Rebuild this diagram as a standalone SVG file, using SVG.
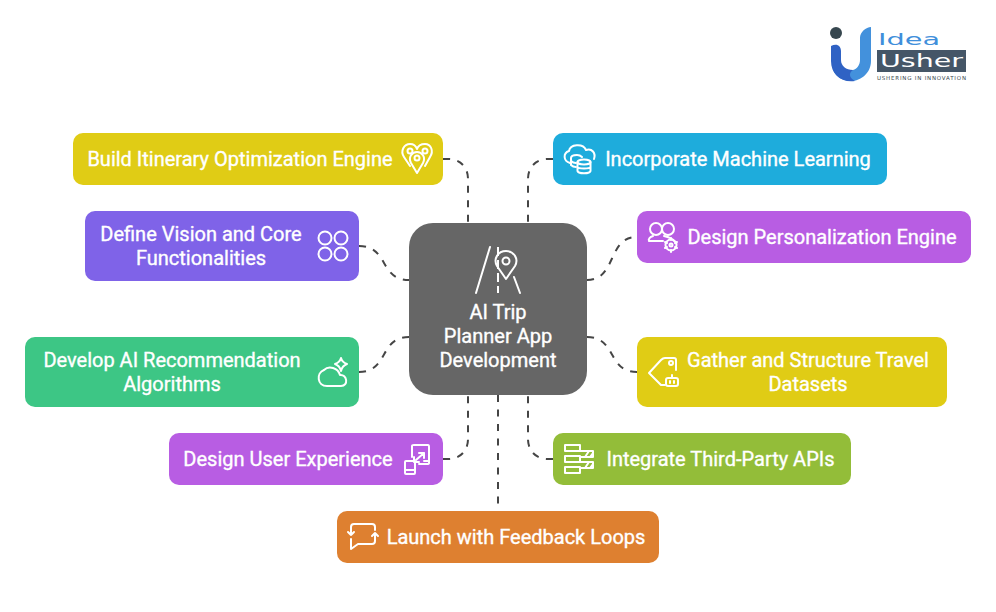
<svg xmlns="http://www.w3.org/2000/svg" width="996" height="612" viewBox="0 0 996 612">
<style>
.t{font-family:Roboto,"Liberation Sans",sans-serif;font-size:20px;font-weight:400;fill:#fff;stroke:#fff;stroke-width:.35px;text-anchor:middle}
.c{fill:none;stroke:#454545;stroke-width:2;stroke-dasharray:7 7.5}
.i{fill:none;stroke:#fff;stroke-width:2;stroke-linecap:round;stroke-linejoin:round}
</style>
<rect width="996" height="612" fill="#fff"/>
<g id="connectors">
<path class="c" d="M443 159H448C460 159 468 167 468 179V223"/>
<path class="c" d="M553 159H548C536 159 528 167 528 179V223"/>
<path class="c" d="M359 246C389 246 379 280 409 280"/>
<path class="c" d="M587 280C617 280 607 237 637 237"/>
<path class="c" d="M359 372C389 372 379 337 409 337"/>
<path class="c" d="M587 337C617 337 607 372 637 372"/>
<path class="c" d="M443 459H448C460 459 468 451 468 439V395"/>
<path class="c" d="M553 459H548C536 459 528 451 528 439V395"/>
<path class="c" d="M498 395V511"/>
</g>
<g id="center">
<rect x="409" y="223" width="178" height="172" rx="24" fill="#666"/>
<path class="i" d="M490 247L476 293M514 277L520 293"/>
<path d="M498 247V293" fill="none" stroke="#fff" stroke-width="2" stroke-dasharray="9 4"/>
<path class="i" d="M506 279L497 266C493 259 498 251 506 251S519 259 515 266Z"/>
<circle class="i" cx="506" cy="261" r="3.500"/>
<text class="t" x="498" y="319">AI Trip</text>
<text class="t" x="498" y="343">Planner App</text>
<text class="t" x="498" y="367">Development</text>
</g>
<g id="n-itinerary">
<rect x="73" y="133" width="370" height="52" rx="10" fill="#e0cc15"/>
<text class="t" x="240" y="166">Build Itinerary Optimization Engine</text>
<path class="i" d="M410 166L404 157C400 151 404 144 410 144C414 144 416 146 417 149C418 146 421 144 425 144C431 144 434 151 430 157L425 166"/>
<path class="i" d="M417 173L411 163C408 157 412 152 417 152S426 157 423 163Z"/>
<circle class="i" cx="410" cy="151" r="2.500"/><circle class="i" cx="425" cy="151" r="2.500"/><circle class="i" cx="417" cy="158" r="2.500"/>
</g>
<g id="n-ml">
<rect x="553" y="133" width="334" height="52" rx="10" fill="#1eacdc"/>
<text class="t" x="738" y="166">Incorporate Machine Learning</text>
<path class="i" d="M570 163C563 161 563 153 569 151C570 144 583 143 586 150C592 148 596 153 594 159"/>
<ellipse class="i" cx="584" cy="162" rx="6.500" ry="2.500"/>
<path class="i" d="M577.500 162V171C578 174 590 174 590.500 171V162M577.500 167C578 169 590 169 590.500 167"/>
<path class="i" d="M577 155C573 155 571 156 571 158V165C572 166 574 167 576 167M571 161C572 162 574 163 576 163M577 155C579 155 581 156 582 157"/>
</g>
<g id="n-vision">
<rect x="85" y="211" width="274" height="70" rx="10" fill="#7f63e8"/>
<text class="t" x="201" y="241">Define Vision and Core</text>
<text class="t" x="201" y="265">Functionalities</text>
<circle class="i" cx="325" cy="238" r="6.500"/><circle class="i" cx="341" cy="238" r="6.500"/><circle class="i" cx="325" cy="254" r="6.500"/><circle class="i" cx="341" cy="254" r="6.500"/>
</g>
<g id="n-personal">
<rect x="637" y="211" width="334" height="52" rx="10" fill="#b85de3"/>
<text class="t" x="822" y="244">Design Personalization Engine</text>
<circle class="i" cx="656" cy="229" r="6"/><circle class="i" cx="668" cy="229" r="6"/>
<path class="i" d="M653 236C650 237 648 239 649 241H663M664 236C668 237 672 238 674 241"/>
<circle class="i" cx="671" cy="245" r="5.500"/><circle class="i" cx="671" cy="245" r="1.500"/>
<path class="i" d="M671 238V240M671 250V252M665 242L667 243M675 247L677 248M665 248L667 247M675 243L677 242"/>
</g>
<g id="n-recommend">
<rect x="25" y="337" width="334" height="70" rx="10" fill="#3dc685"/>
<text class="t" x="172" y="367">Develop AI Recommendation</text>
<text class="t" x="172" y="391">Algorithms</text>
<path class="i" d="M327 386C317 386 316 373 324 370C329 365 338 368 340 375C347 374 349 386 341 386Z"/>
<path class="i" d="M341 358C342 362 344 363 347 364C344 365 342 367 341 371C340 367 338 365 335 364C338 363 340 362 341 358Z"/>
</g>
<g id="n-datasets">
<rect x="637" y="337" width="310" height="70" rx="10" fill="#e0cc15"/>
<text class="t" x="808" y="367">Gather and Structure Travel</text>
<text class="t" x="808" y="391">Datasets</text>
<path class="i" d="M661 385L649 373L661 360C662 359 663 358 665 358H674C675 358 676 359 676 360V370M665 385H662"/>
<circle class="i" cx="671" cy="363" r="2"/>
<rect class="i" x="666" y="378" width="12" height="8" rx="2"/><path class="i" d="M672 375V378M670 381V383M674 381V383"/>
</g>
<g id="n-ux">
<rect x="169" y="433" width="274" height="52" rx="10" fill="#b85de3"/>
<text class="t" x="288" y="466">Design User Experience</text>
<path class="i" d="M412 457V446C412 445 413 445 414 445H428C429 445 429 446 429 447V463C429 464 428 464 427 464H419M424 461H429"/>
<rect class="i" x="405" y="461" width="10" height="13" rx="1"/><path class="i" d="M405 470H415"/>
<path class="i" d="M416 460L424 453M419 453H424V458M414 462V457M414 462H419"/>
</g>
<g id="n-apis">
<rect x="553" y="433" width="298" height="52" rx="10" fill="#93bd39"/>
<text class="t" x="720.500" y="466">Integrate Third-Party APIs</text>
<path class="i" d="M565 445H580V451H565ZM565 456H580V462H565ZM565 467H580V473H565Z"/>
<path class="i" d="M580 451H593V457H580M580 462H593V468H580M585 457L589 451M590 457L593 453M585 468L589 462M590 468L593 464"/>
</g>
<g id="n-launch">
<rect x="337" y="511" width="322" height="52" rx="10" fill="#de8030"/>
<text class="t" x="516" y="544">Launch with Feedback Loops</text>
<path class="i" d="M351 535V527C351 525 352 524 354 524H372C374 524 375 525 375 527V530M351 539V549L358 544H372C374 544 375 543 375 541V533M348 532L351 535L354 532M372 536L375 533L378 536"/>
</g>
<g id="logo">
<circle cx="836" cy="33" r="6" fill="#37474f"/>
<path d="M860 38C860 32 866 27 871 27V61C871 73 861 81 851 81C843 81 836 77 833 70C838 71 847 71 853 70C857 69 860 65 860 60Z" fill="#4391dc"/>
<path d="M831 46C837 43 841 46 841 51V60C841 66 846 70 853 70C847 74 851 79 855 81C841 83 831 74 831 61Z" fill="#2f62c4"/>
<text x="878" y="45" font-family="DejaVu Sans,sans-serif" font-size="15" fill="#3f8fdb" textLength="62" lengthAdjust="spacingAndGlyphs">Idea</text>
<rect x="877" y="50" width="89" height="22" fill="#455667"/>
<text x="880" y="67" font-family="DejaVu Sans,sans-serif" font-size="17" fill="#fff" textLength="83" lengthAdjust="spacingAndGlyphs">Usher</text>
<text x="877" y="80" font-family="DejaVu Sans,sans-serif" font-size="5.500" fill="#37474f" textLength="89">USHERING IN INNOVATION</text>
</g>
</svg>
